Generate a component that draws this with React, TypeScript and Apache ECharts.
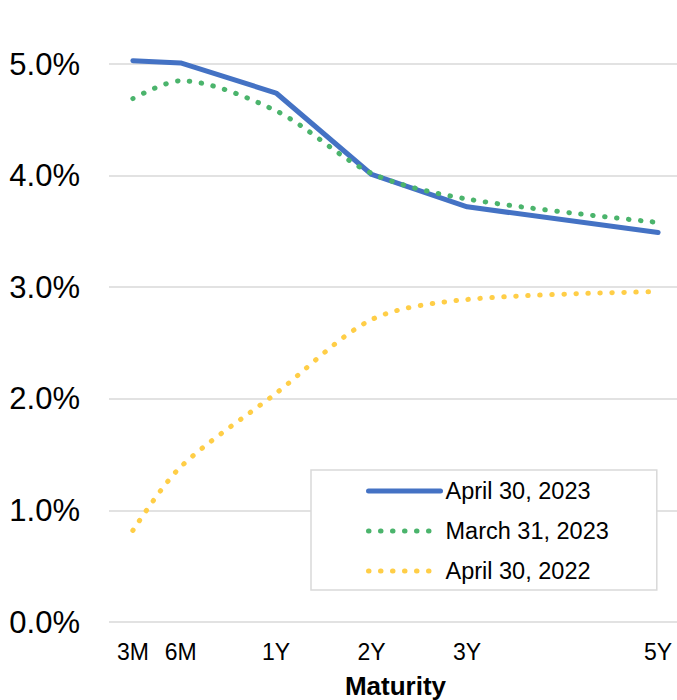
import React, { useEffect, useRef } from "react";
import * as echarts from "echarts";

const maturityLabels = ["3M", "6M", "1Y", "2Y", "3Y", "5Y"];
const maturityPos = [0, 1, 3, 5, 7, 11];
const seriesNames = ["April 30, 2023", "March 31, 2023", "April 30, 2022"];
const apr2023 = [5.03, 5.01, 4.74, 4.01, 3.72, 3.49];
const mar2023 = [4.69, 4.85, 4.58, 4.02, 3.79, 3.58];
const apr2022 = [0.82, 1.39, 2.05, 2.71, 2.89, 2.96];
const yTicks = [0, 1, 2, 3, 4, 5];

const FONT = "'Liberation Sans', Arial, sans-serif";

function toPoints(vals: number[]) {
  return vals.map((v, i) => [maturityPos[i], v]);
}

export default function App() {
  const ref = useRef<HTMLDivElement>(null);
  useEffect(() => {
    if (!ref.current) return;
    const chart = echarts.init(ref.current, null, { renderer: "svg" });
    const dotted = (color: string) => ({
      color,
      width: 5,
      type: [0.5, 11.5],
      cap: "round",
    });
    chart.setOption({
      animation: false,
      backgroundColor: "#ffffff",
      textStyle: { fontFamily: FONT },
      grid: {
        left: 109,
        top: 64,
        height: 558,
        width: 573,
        containLabel: false,
        outerBoundsMode: "none",
      },
      xAxis: {
        type: "value",
        min: -0.5,
        max: 11.5,
        name: "Maturity",
        nameLocation: "middle",
        nameGap: 51,
        nameTextStyle: { fontSize: 26, fontWeight: "bold", color: "#000", fontFamily: FONT },
        axisLine: { show: false },
        axisTick: { show: false },
        splitLine: { show: false },
        axisLabel: {
          customValues: maturityPos,
          margin: 18,
          fontSize: 23,
          color: "#000",
          fontFamily: FONT,
          formatter: (v: number) => {
            const i = maturityPos.indexOf(v);
            return i >= 0 ? maturityLabels[i] : "";
          },
        },
      },
      yAxis: {
        type: "value",
        min: yTicks[0],
        max: yTicks[yTicks.length - 1],
        interval: 1,
        axisLine: { show: false },
        axisTick: { show: false },
        splitLine: { lineStyle: { color: "#d9d9d9", width: 1.5 } },
        axisLabel: {
          margin: 29,
          fontSize: 31,
          color: "#000",
          fontFamily: FONT,
          formatter: (v: number) => v.toFixed(1) + "%",
        },
      },
      legend: {
        orient: "vertical",
        left: 311,
        top: 470,
        data: seriesNames,
        itemWidth: 72,
        itemHeight: 14,
        itemGap: 16,
        padding: [9, 48, 7, 55],
        backgroundColor: "#ffffff",
        borderColor: "#d9d9d9",
        borderWidth: 1.5,
        itemStyle: { opacity: 0 },
        lineStyle: { width: 5 },
        textStyle: { fontSize: 23.5, color: "#000", fontFamily: FONT, lineHeight: 24 },
      },
      series: [
        {
          name: seriesNames[0],
          type: "line",
          data: toPoints(apr2023),
          symbol: "none",
          clip: false,
          lineStyle: { color: "#4472C4", width: 5, cap: "round", join: "round" },
          itemStyle: { color: "#4472C4" },
          z: 3,
        },
        {
          name: seriesNames[1],
          type: "line",
          data: toPoints(mar2023),
          symbol: "none",
          smooth: 0.3,
          clip: false,
          lineStyle: dotted("#4BB46C"),
          itemStyle: { color: "#4BB46C" },
          z: 4,
        },
        {
          name: seriesNames[2],
          type: "line",
          data: toPoints(apr2022),
          symbol: "none",
          smooth: 0.3,
          clip: false,
          lineStyle: dotted("#FFCE47"),
          itemStyle: { color: "#FFCE47" },
          z: 2,
        },
      ],
    });
    return () => chart.dispose();
  }, []);
  return (
    <div
      ref={ref}
      style={{ position: "fixed", left: 0, top: 0, width: 677, height: 700, background: "#fff" }}
    />
  );
}
